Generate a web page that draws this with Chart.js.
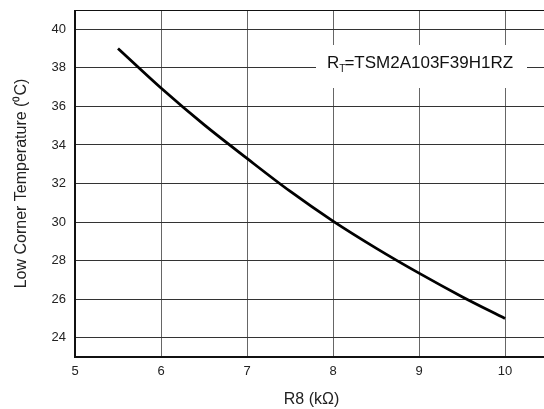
<!DOCTYPE html>
<html>
<head>
<meta charset="utf-8">
<script src="https://cdn.jsdelivr.net/npm/chart.js@4/dist/chart.umd.min.js"></script>
<style>
html,body{margin:0;padding:0;background:#fff;overflow:hidden;width:544px;height:409px;}
#wrap{position:relative;width:550px;height:409px;}
</style>
</head>
<body>
<div id="wrap"><canvas id="c" width="550" height="409"></canvas></div>
<script>
const r8Values = [5.5, 6, 6.5, 7, 7.5, 8, 8.5, 9, 9.5, 10];
const tempValues = [39.0, 36.95, 35.05, 33.3, 31.6, 30.05, 28.65, 27.35, 26.13, 25.0];
const xTickValues = [5, 6, 7, 8, 9, 10];
const yTickValues = [24, 26, 28, 30, 32, 34, 36, 38, 40];
const xTitle = 'R8 (kΩ)';
const yTitle = 'Low Corner Temperature (⁰C)';
const labelMain = 'R';
const labelSub = 'T';
const labelRest = '=TSM2A103F39H1RZ';

const FONT = 'Liberation Sans, Arial, sans-serif';

const decor = {
  id: 'decor',
  afterDraw(chart) {
    const {ctx, chartArea: a} = chart;
    ctx.save();
    ctx.strokeStyle = '#111';
    ctx.lineWidth = 1;
    ctx.beginPath();
    ctx.moveTo(a.left, a.top + 0.5);
    ctx.lineTo(a.right + 10, a.top + 0.5);
    ctx.stroke();
    ctx.lineWidth = 2;
    ctx.beginPath();
    ctx.moveTo(a.left, a.top);
    ctx.lineTo(a.left, a.bottom);
    ctx.lineTo(a.right + 10, a.bottom);
    ctx.stroke();
    const bx0 = 316, bx1 = 527, by0 = 45, by1 = 88;
    ctx.fillStyle = '#fff';
    ctx.fillRect(bx0, by0, bx1 - bx0, by1 - by0);
    ctx.fillStyle = '#111';
    ctx.textBaseline = 'alphabetic';
    ctx.textAlign = 'left';
    let x = 327, y = 68;
    ctx.font = '17px ' + FONT;
    ctx.fillText(labelMain, x, y);
    x += ctx.measureText(labelMain).width;
    ctx.font = '10px ' + FONT;
    ctx.fillText(labelSub, x, y + 4);
    x += ctx.measureText(labelSub).width - 1;
    ctx.font = '17px ' + FONT;
    ctx.fillText(labelRest, x, y);
    ctx.restore();
  }
};

new Chart(document.getElementById('c'), {
  type: 'line',
  data: {
    datasets: [{
      data: r8Values.map((v, i) => ({x: v, y: tempValues[i]})),
      borderColor: '#000',
      borderWidth: 2.8,
      pointRadius: 0,
      fill: false,
      cubicInterpolationMode: 'monotone'
    }]
  },
  options: {
    responsive: false,
    animation: false,
    devicePixelRatio: 1,
    layout: {padding: {top: 10, right: 2, left: 12, bottom: 0}},
    plugins: {legend: {display: false}, tooltip: {enabled: false}},
    scales: {
      x: {
        type: 'linear', min: 5, max: 10.5,
        afterBuildTicks: s => { s.ticks = xTickValues.map(v => ({value: v})); },
        afterFit: s => { s.height = 52; s.paddingLeft = 0; s.paddingRight = 0; },
        border: {display: false},
        grid: {color: '#666', lineWidth: 1, drawTicks: false},
        ticks: {color: '#222', font: {family: FONT, size: 13}, padding: 7, maxRotation: 0},
        title: {display: true, text: xTitle, color: '#222', font: {family: FONT, size: 16}, padding: {top: 1, bottom: 0}}
      },
      y: {
        type: 'linear', min: 23, max: 41,
        afterBuildTicks: s => { s.ticks = yTickValues.map(v => ({value: v})); },
        afterFit: s => { s.width = 63; s.paddingTop = 0; s.paddingBottom = 0; },
        border: {display: false},
        grid: {color: '#333', lineWidth: 1, drawTicks: false},
        ticks: {color: '#222', font: {family: FONT, size: 13}, padding: 9},
        title: {display: true, text: yTitle, color: '#222', font: {family: FONT, size: 16}, padding: {top: 0, bottom: 6}}
      }
    }
  },
  plugins: [decor]
});
</script>
</body>
</html>
